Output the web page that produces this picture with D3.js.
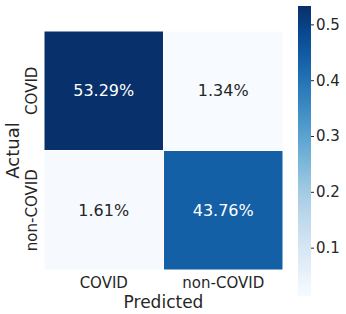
<!DOCTYPE html>
<html>
<head>
<meta charset="utf-8">
<script src="https://cdn.jsdelivr.net/npm/d3@7"></script>
<style>
  body { margin: 0; background: #fff; }
  text { font-family: "DejaVu Sans", sans-serif; fill: #262626; }
</style>
</head>
<body>
<div id="viz"></div>
<script>
const actual = ['COVID', 'non-COVID']
const predicted = ['COVID', 'non-COVID']
// rows = actual, columns = predicted
const covidRow = [0.5329, 0.0134]
const nonCovidRow = [0.0161, 0.4376]
const cbTicks = [0.1, 0.2, 0.3, 0.4, 0.5]

const w = 346, h = 314

const svg = d3.select('#viz')
    .append('svg')
    .attr('width', w)
    .attr('height', h)

const margin = { top: 31, left: 44 }
const size = 239

const rows = [covidRow, nonCovidRow]
const cells = []
rows.forEach((r, i) => r.forEach((v, j) => cells.push({ a: actual[i], p: predicted[j], v })))

const vmin = d3.min(cells, d => d.v), vmax = d3.max(cells, d => d.v)
const color = d3.scaleSequential(d3.interpolateBlues).domain([vmin, vmax])

const x = d3.scaleBand().domain(predicted).range([0, size])
const y = d3.scaleBand().domain(actual).range([0, size])

const g = svg.append('g')
    .attr('transform', `translate(${margin.left}, ${margin.top})`)

g.selectAll('rect')
    .data(cells)
    .enter()
    .append('rect')
    .attr('x', d => x(d.p))
    .attr('y', d => y(d.a))
    .attr('width', x.bandwidth())
    .attr('height', y.bandwidth())
    .attr('fill', d => color(d.v))
    .attr('stroke', '#fff')
    .attr('stroke-width', 1)

g.selectAll('.ann')
    .data(cells)
    .enter()
    .append('text')
    .attr('class', 'ann')
    .attr('x', d => x(d.p) + x.bandwidth() / 2)
    .attr('y', d => y(d.a) + y.bandwidth() / 2)
    .attr('text-anchor', 'middle')
    .attr('dominant-baseline', 'central')
    .style('font-size', '16px')
    .style('fill', d => (d.v - vmin) / (vmax - vmin) > 0.5 ? '#fff' : '#262626')
    .text(d => (d.v * 100).toFixed(2) + '%')

// x axis
const xAxisG = g.append('g')
    .attr('transform', `translate(0, ${size})`)
    .call(d3.axisBottom(x).tickSize(0).tickPadding(7))
xAxisG.select('.domain').remove()
xAxisG.selectAll('text').style('font-size', '15px').style('fill', '#262626')
    .style('font-family', '"DejaVu Sans", sans-serif')

g.append('text')
    .attr('x', size / 2)
    .attr('y', size + 38)
    .attr('text-anchor', 'middle')
    .style('font-size', '17px')
    .text('Predicted')

// y axis
const yAxisG = g.append('g')
    .call(d3.axisLeft(y).tickSize(0).tickPadding(0))
yAxisG.select('.domain').remove()
yAxisG.selectAll('text')
    .attr('transform', 'rotate(-90)')
    .attr('x', 0)
    .attr('y', -7)
    .attr('dy', 0)
    .attr('text-anchor', 'middle')
    .style('font-size', '15px').style('fill', '#262626')
    .style('font-family', '"DejaVu Sans", sans-serif')

g.append('text')
    .attr('transform', 'rotate(-90)')
    .attr('x', -size / 2)
    .attr('y', -25)
    .attr('text-anchor', 'middle')
    .style('font-size', '18px')
    .text('Actual')

// colorbar
const cbX = 298, cbW = 13
const cy = d3.scaleLinear().domain([vmin, vmax]).range([296, 6])

const defs = svg.append('defs')
const grad = defs.append('linearGradient')
    .attr('id', 'cb')
    .attr('x1', 0).attr('y1', 1).attr('x2', 0).attr('y2', 0)
d3.range(0, 1.0001, 0.05).forEach(t => {
    grad.append('stop')
        .attr('offset', t)
        .attr('stop-color', d3.interpolateBlues(t))
})

svg.append('rect')
    .attr('x', cbX)
    .attr('y', cy(vmax))
    .attr('width', cbW)
    .attr('height', cy(vmin) - cy(vmax))
    .attr('fill', 'url(#cb)')

const cbAxisG = svg.append('g')
    .attr('transform', `translate(${cbX + cbW}, 0)`)
    .call(d3.axisRight(cy).tickValues(cbTicks).tickFormat(d3.format('.1f')).tickSize(3).tickPadding(2))
cbAxisG.select('.domain').remove()
cbAxisG.selectAll('line').attr('stroke', '#262626')
cbAxisG.selectAll('text').style('font-size', '15px').style('fill', '#262626')
    .style('font-family', '"DejaVu Sans", sans-serif')
</script>
</body>
</html>
